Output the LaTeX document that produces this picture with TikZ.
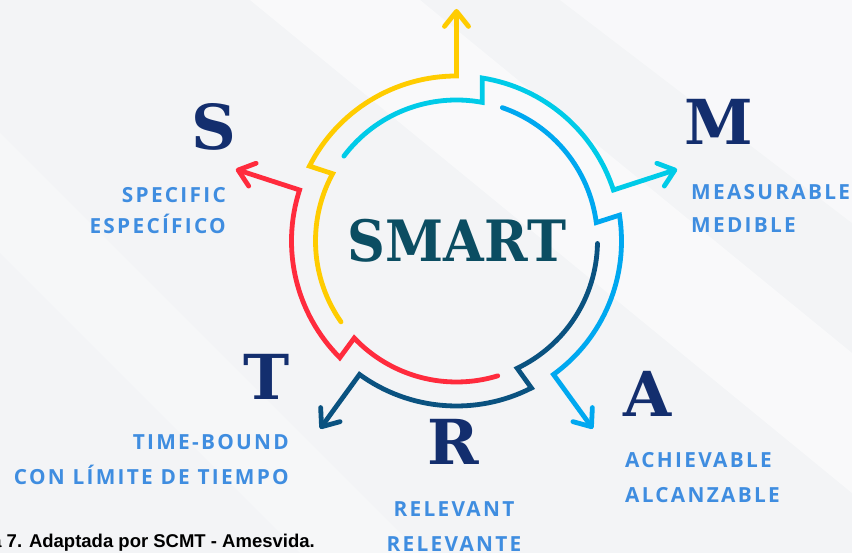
\documentclass[tikz,border=0pt]{standalone}
\usepackage{fontspec}
\usetikzlibrary{calc,arrows.meta}
\newfontfamily\labfont[LetterSpace=11]{Open Sans}
\newfontfamily\letfont{DejaVu Serif}
\newfontfamily\capfont{Liberation Sans}
\definecolor{cyellow}{HTML}{FFCC00}
\definecolor{ccyan}{HTML}{00CBE8}
\definecolor{clblue}{HTML}{00A8F0}
\definecolor{cdblue}{HTML}{0A5280}
\definecolor{cred}{HTML}{FF2B3D}
\definecolor{csmart}{HTML}{0B4D62}
\definecolor{cnavy}{HTML}{132E6E}
\definecolor{clabel}{HTML}{3F8DE0}
\definecolor{cbg}{HTML}{F3F4F6}
\tikzset{
  seg/.style={line width=4.8pt, line cap=round, line join=miter,
    -{Straight Barb[length=15pt,width=24pt,round]}},
  lab/.style={font=\labfont\bfseries\fontsize{20.8}{24}\selectfont, text=clabel, inner sep=0pt},
  bigletter/.style={font=\letfont\bfseries\fontsize{62}{62}\selectfont, text=cnavy, inner sep=0pt, anchor=base},
}
\begin{document}
\begin{tikzpicture}[x=1pt,y=1pt]
\useasboundingbox (0,0) rectangle (852,553);
% background
\fill[cbg] (0,0) rectangle (852,553);
\fill[white,opacity=0.5] (250,553) -- (420,553) -- (852,200) -- (852,60) -- cycle;
\fill[white,opacity=0.45] (560,553) -- (852,553) -- (852,330) -- cycle;
\fill[white,opacity=0.3] (0,420) -- (0,300) -- (300,0) -- (420,0) -- cycle;
\coordinate (C) at (456.5,312);
% segments
\foreach \A/\col/\nm in {90/cyellow/y, 18/ccyan/c, -54/clblue/b, -126/cdblue/d, -198/cred/r} {
  \coordinate (\nm s) at ($(C)+(\A+125:141)$);
  \coordinate (\nm o) at ($(C)+(\A+63:165)$);
  \coordinate (\nm t) at ($(C)+(\A:232)$);
  \draw[seg, draw=\col] (\nm s) arc[start angle=\A+125, end angle=\A+61.5, radius=141]
     -- (\nm o) arc[start angle=\A+63, end angle=\A, radius=165] -- (\nm t);
}
% center text
\node[font=\letfont\bfseries\fontsize{57}{57}\selectfont, text=csmart, anchor=base, xscale=0.92, inner sep=0pt] (smart) at (457,291) {SMART};
% letters
\foreach \n/\x/\y/\t in {ls/214/403/S, lm/719/408/M, la/648/136/A, lt/267/153/T, lr/453/88/R} {
  \node[bigletter] (\n) at (\x,\y) {\t};
}
% labels
\node[lab, anchor=base east] (s1) at (226,350) {SPECIFIC};
\node[lab, anchor=base east] (s2) at (226,319) {ESPECÍFICO};
\node[lab, anchor=base west] (m1) at (691,353) {MEASURABLE};
\node[lab, anchor=base west] (m2) at (691,320) {MEDIBLE};
\node[lab, anchor=base west] (a1) at (625,85) {ACHIEVABLE};
\node[lab, anchor=base west] (a2) at (625,50) {ALCANZABLE};
\node[lab, anchor=base east] (t1) at (289,103) {TIME-BOUND};
\node[lab, anchor=base east] (t2) at (289,68) {CON LÍMITE DE TIEMPO};
\node[lab, anchor=base] (r1) at (454,36) {RELEVANT};
\node[lab, anchor=base] (r2) at (454,1) {RELEVANTE};
% caption
\node[font=\capfont\bfseries\fontsize{18.5}{22}\selectfont, anchor=base east, inner sep=0pt] (cap) at (315,5.5) {a 7. Adaptada por SCMT - Amesvida.};
\end{tikzpicture}
\end{document}
